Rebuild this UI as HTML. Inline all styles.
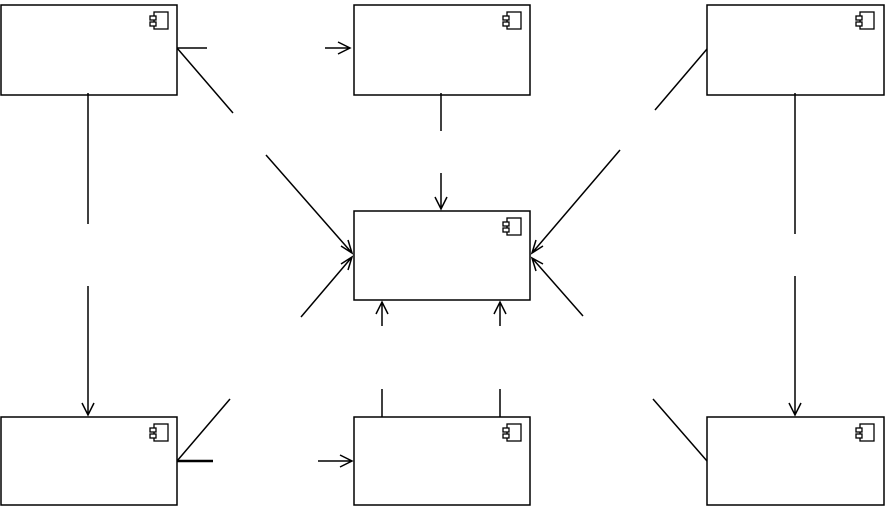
<!DOCTYPE html>
<html><head><style>body{margin:0;background:#fff}svg{display:block}</style></head>
<body>
<svg width="890" height="512" xmlns="http://www.w3.org/2000/svg">
<defs>
<g id="ic" fill="#fff" stroke="#000" stroke-width="1.3">
<rect x="4" y="0" width="14" height="17"/>
<rect x="0" y="4" width="6" height="4"/>
<rect x="0" y="10" width="6" height="4"/>
</g>
</defs>
<g fill="#fff" stroke="#000" stroke-width="1.5">
<rect x="1" y="5" width="176" height="90"/>
<rect x="354" y="5" width="176" height="90"/>
<rect x="707" y="5" width="177" height="90"/>
<rect x="354" y="211" width="176" height="89"/>
<rect x="1" y="417" width="176" height="88"/>
<rect x="354" y="417" width="176" height="88"/>
<rect x="707" y="417" width="177" height="88"/>
</g>
<use href="#ic" x="150" y="12"/>
<use href="#ic" x="503" y="12"/>
<use href="#ic" x="856" y="12"/>
<use href="#ic" x="503" y="218"/>
<use href="#ic" x="150" y="424"/>
<use href="#ic" x="503" y="424"/>
<use href="#ic" x="856" y="424"/>
<g stroke="#000" stroke-width="1.5" fill="none">
<path d="M177 48H207M325 48H350M338 42L350 48L338 54"/>
<path d="M177 48L233 113M266 155L352 253M341 246L352 253L348 240"/>
<path d="M441 93V131M441 173V209M435 197L441 209L447 197"/>
<path d="M707 49L655 110M620 150L532 253M536 240L532 253L543 246"/>
<path d="M88 93V224M88 286V415M82 403L88 415L94 403"/>
<path d="M795 93V234M795 276V415M789 403L795 415L801 403"/>
<path d="M177 461L230 399M301 317L352 257M341 264L352 257L348 270"/>
<path d="M177 461H213M318 461H352M340 455L352 461L340 467"/>
<path d="M177 461H213" stroke-width="2.5"/>
<path d="M382 417V389M382 326V302M376 314L382 302L388 314"/>
<path d="M500 417V389M500 326V302M494 314L500 302L506 314"/>
<path d="M707 461L653 399M583 316L532 258M536 271L532 258L543 264"/>
</g>
</svg>
</body></html>
